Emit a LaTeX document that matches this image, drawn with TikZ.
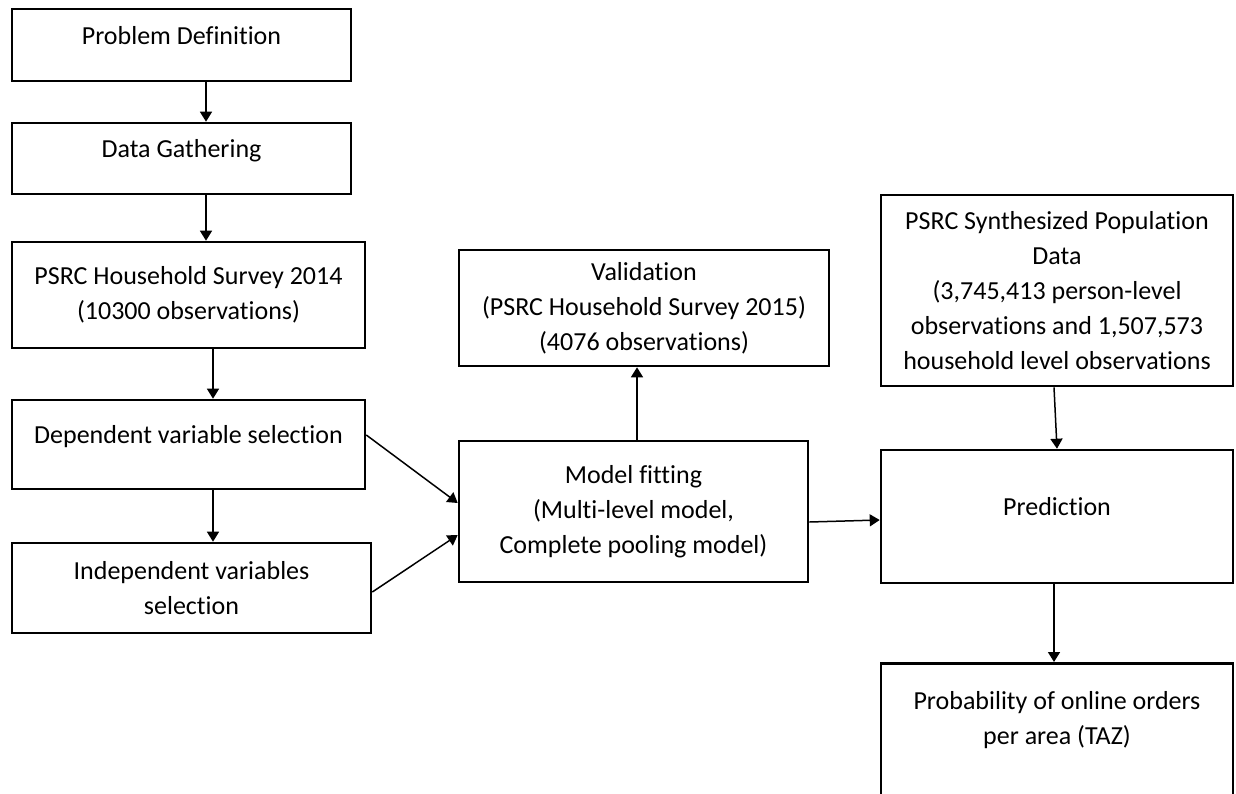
\documentclass[tikz,border=0pt]{standalone}
\usepackage{fontspec}
\setmainfont{Carlito}[Ligatures=NoCommon]
\usetikzlibrary{arrows.meta}

\begin{document}
\begin{tikzpicture}
                \tikzset{x=0.5pt, y=-0.5pt, >={Triangle[length=5pt, width=6pt]}}
                \tikzstyle{box}=[rectangle, draw, line width=1.3pt, align=center, font=\fontsize{13}{17.5}\selectfont]
                \tikzstyle{high}=[box, text height=9pt, text depth=10pt]
                \tikzstyle{link}=[->, line width=0.75pt]

                \useasboundingbox (0, 0) rectangle (1236, 793);
                \clip (0, 0) rectangle (1236, 793);

                % left column
                \draw (181.5, 45.0)   node[high, minimum width=169.5pt, minimum height=36pt]   (pd)   {Problem Definition};
                \draw (181.5, 158.5)  node[high, minimum width=169.5pt, minimum height=35.5pt] (dg)   {Data Gathering};
                \draw (188.5, 295.0)  node[box,  minimum width=176.5pt, minimum height=53pt]   (hs)   {PSRC Household Survey 2014\\(10300 observations)};
                \draw (188.5, 444.5)  node[high, minimum width=176.5pt, minimum height=44.5pt] (dep)  {Dependent variable selection};
                \draw (191.5, 588.0)  node[box,  minimum width=179.5pt, minimum height=45pt]   (ind)  {Independent variables\\selection};

                % middle column
                \draw (644.0, 308.0)  node[box,  minimum width=185pt,   minimum height=58pt]   (val)  {Validation\\(PSRC Household Survey 2015)\\(4076 observations)};
                \draw (633.5, 511.5)  node[box,  minimum width=174.5pt, minimum height=70.5pt] (mod)  {Model fitting\\(Multi-level model,\\Complete pooling model)};

                % right column
                \draw (1057.0, 290.5) node[box,  minimum width=176pt,   minimum height=95.5pt] (syn)  {PSRC Synthesized Population\\Data\\(3,745,413 person-level\\observations and 1,507,573\\household level observations};
                \draw (1057.0, 516.5) node[high, minimum width=176pt,   minimum height=66.5pt] (pred) {Prediction};
                \draw (1057.0, 662.0) node[box,  minimum width=176pt,   minimum height=77pt, anchor=north] (prob) {Probability of online orders\\per area (TAZ)\\\strut};

                \draw [link]          ([xshift=12.25pt]pd.south)  -- ([xshift=12.25pt]dg.north);
                \draw [link]          ([xshift=12.25pt]dg.south)  -- ([xshift=8.75pt]hs.north);
                \draw [link]          ([xshift=12.25pt]hs.south)  -- ([xshift=12.25pt]dep.north);
                \draw [link]          ([xshift=12.25pt]dep.south) -- ([xshift=10.75pt]ind.north);
                \draw [link]          ([yshift=4.75pt]dep.east)   -- ([yshift=4.25pt]mod.west);
                \draw [link]          ([yshift=-2pt]ind.east)     -- ([yshift=-11.75pt]mod.west);
                \draw [link]          ([xshift=1.75pt]mod.north)  -- ([xshift=-3.5pt]val.south);
                \draw [link]          ([yshift=-5.25pt]mod.east)  -- ([yshift=-1.75pt]pred.west);
                \draw [link]          ([xshift=-1.5pt]syn.south)  -- (pred.north);
                \draw [link]          ([xshift=-1.5pt]pred.south) -- ([xshift=-1.5pt]prob.north);
            \end{tikzpicture}
\end{document}
